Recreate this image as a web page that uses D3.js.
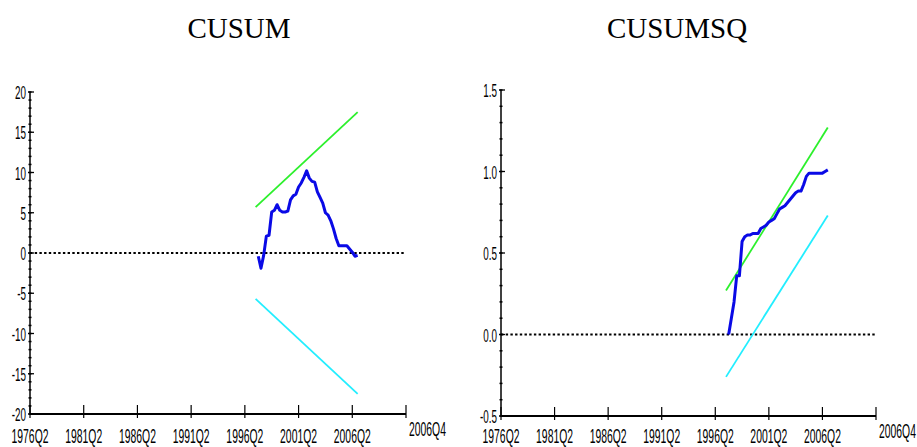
<!DOCTYPE html>
<html>
<head>
<meta charset="utf-8">
<script src="https://cdn.jsdelivr.net/npm/d3@7"></script>
<style>
  html, body { margin: 0; padding: 0; background: #fff; }
  svg { display: block; }
</style>
</head>
<body>
<div id="chart"></div>
<script>
// x axis categories (quarters)
const axisStart = "1976Q2";
const axisEnd = "2011Q2";          // position of the right end of the axis
const xTickLabels = ["1976Q2", "1981Q2", "1986Q2", "1991Q2", "1996Q2", "2001Q2", "2006Q2"];
const xEndLabel = "2006Q4";

// CUSUM panel
const cusumStart = "1997Q3";
const cusumValues = [
  -0.4, -1.9, -0.3, 2.1, 2.2, 5.1, 5.3, 6.0, 5.3, 5.1,
  5.1, 5.2, 6.6, 7.1, 7.3, 8.2, 8.7, 9.4, 10.2, 9.3,
  8.9, 8.8, 7.6, 6.9, 6.2, 5.0, 4.7, 4.0, 3.0, 1.8,
  0.9, 0.9, 0.9, 0.9, 0.5, 0.1, -0.4, -0.3
];
const cusumBoundPeriods = ["1997Q2", "2006Q4"];
const cusumUpper = [5.7, 17.5];
const cusumLower = [-5.7, -17.5];
const cusumYTicks = [-20, -15, -10, -5, 0, 5, 10, 15, 20];

// CUSUM of squares panel
const cusumsqStart = "1997Q3";
const cusumsqValues = [
  0.00, 0.10, 0.20, 0.36, 0.36, 0.57, 0.60, 0.61, 0.61, 0.62,
  0.62, 0.62, 0.65, 0.66, 0.67, 0.69, 0.70, 0.71, 0.74, 0.77,
  0.78, 0.79, 0.81, 0.83, 0.85, 0.87, 0.88, 0.88, 0.92, 0.97,
  0.99, 0.99, 0.99, 0.99, 0.99, 0.99, 1.00, 1.01
];
const cusumsqBoundPeriods = ["1997Q2", "2006Q4"];
const cusumsqUpper = [0.27, 1.27];
const cusumsqLower = [-0.26, 0.73];
const cusumsqYTicks = [-0.5, 0.0, 0.5, 1.0, 1.5];

function qIndex(p) {
  const y = +p.slice(0, 4), q = +p.slice(5);
  return y * 4 + (q - 1);
}

const W = 917, H = 447;
const svg = d3.select("#chart").append("svg")
  .attr("width", W).attr("height", H);

const labelFont = "'Liberation Sans', Arial, sans-serif";

function narrowText(g, x, y, txt, anchor, size) {
  g.append("g")
    .attr("transform", `translate(${x},${y}) scale(0.52,1)`)
    .append("text")
    .attr("text-anchor", anchor)
    .style("font-family", labelFont)
    .style("font-size", size + "px")
    .attr("fill", "#000")
    .text(txt);
}

function drawPanel(o) {
  const g = svg.append("g");
  const x = d3.scaleLinear()
    .domain([qIndex(axisStart), qIndex(axisEnd)])
    .range([o.left, o.right]);
  const y = d3.scaleLinear()
    .domain(o.yDomain)
    .range([o.bottom, o.top]);

  // title
  g.append("text")
    .attr("x", o.titleX).attr("y", 38)
    .attr("text-anchor", "middle")
    .style("font-family", "'Liberation Serif', 'Times New Roman', serif")
    .style("font-size", "29px")
    .text(o.title);

  // minor ticks on y axis
  const minor = d3.range(o.yDomain[0], o.yDomain[1] + o.minorStep / 2, o.minorStep);
  g.selectAll(".minor").data(minor).enter().append("line")
    .attr("x1", o.left - 1.5).attr("x2", o.left + 1.5)
    .attr("y1", d => y(d)).attr("y2", d => y(d))
    .attr("stroke", "#000").attr("stroke-width", 1.5);

  // major ticks + labels
  g.selectAll(".major").data(o.yTicks).enter().append("line")
    .attr("x1", o.left - 2).attr("x2", o.left + 4)
    .attr("y1", d => y(d)).attr("y2", d => y(d))
    .attr("stroke", "#000").attr("stroke-width", 1.3);
  o.yTicks.forEach(t => narrowText(g, o.left - 4, y(t) + 7, o.yFormat(t), "end", 19));

  // y axis line
  g.append("line")
    .attr("x1", o.left).attr("x2", o.left)
    .attr("y1", y(o.yDomain[1])).attr("y2", o.bottom)
    .attr("stroke", "#000").attr("stroke-width", 1.5);

  // x axis line
  g.append("line")
    .attr("x1", o.left).attr("x2", o.right)
    .attr("y1", o.bottom).attr("y2", o.bottom)
    .attr("stroke", "#000").attr("stroke-width", 2);

  // x ticks
  const xt = xTickLabels.map(qIndex).concat([qIndex(axisEnd)]);
  g.selectAll(".xt").data(xt).enter().append("line")
    .attr("x1", d => x(d)).attr("x2", d => x(d))
    .attr("y1", o.bottom - 9).attr("y2", o.bottom + 4)
    .attr("stroke", "#000").attr("stroke-width", 1.2);
  xTickLabels.forEach(l => narrowText(g, x(qIndex(l)), H - 4, l, "middle", 20));
  narrowText(g, o.right + 3, o.bottom + 22, xEndLabel, "start", 20);

  // zero reference line
  g.append("line")
    .attr("x1", o.left).attr("x2", o.right - 1)
    .attr("y1", y(0)).attr("y2", y(0))
    .attr("stroke", "#000").attr("stroke-width", 2)
    .attr("stroke-dasharray", "2.4,2.3");

  const bx = o.boundPeriods.map(qIndex);
  const bline = d3.line().x(d => x(d[0])).y(d => y(d[1]));
  g.append("path")
    .datum(bx.map((q, i) => [q, o.upper[i]]))
    .attr("d", bline).attr("fill", "none")
    .attr("stroke", "#2cf02c").attr("stroke-width", 1.8);
  g.append("path")
    .datum(bx.map((q, i) => [q, o.lower[i]]))
    .attr("d", bline).attr("fill", "none")
    .attr("stroke", "#22eeff").attr("stroke-width", 1.8);

  const s = qIndex(o.start);
  g.append("path")
    .datum(o.values.map((v, i) => [s + i, v]))
    .attr("d", d3.line().x(d => x(d[0])).y(d => y(d[1])))
    .attr("fill", "none")
    .attr("stroke", "#0a0ae6").attr("stroke-width", 3)
    .attr("stroke-linejoin", "round");
}

drawPanel({
  title: "CUSUM", titleX: 239,
  left: 30, right: 406, top: 92, bottom: 414,
  yDomain: [-20, 20], yTicks: cusumYTicks, minorStep: 1,
  yFormat: d => String(d),
  start: cusumStart, values: cusumValues,
  boundPeriods: cusumBoundPeriods, upper: cusumUpper, lower: cusumLower
});

drawPanel({
  title: "CUSUMSQ", titleX: 677,
  left: 501, right: 876, top: 90, bottom: 416,
  yDomain: [-0.5, 1.5], yTicks: cusumsqYTicks, minorStep: 0.1,
  yFormat: d => d.toFixed(1),
  start: cusumsqStart, values: cusumsqValues,
  boundPeriods: cusumsqBoundPeriods, upper: cusumsqUpper, lower: cusumsqLower
});
</script>
</body>
</html>
